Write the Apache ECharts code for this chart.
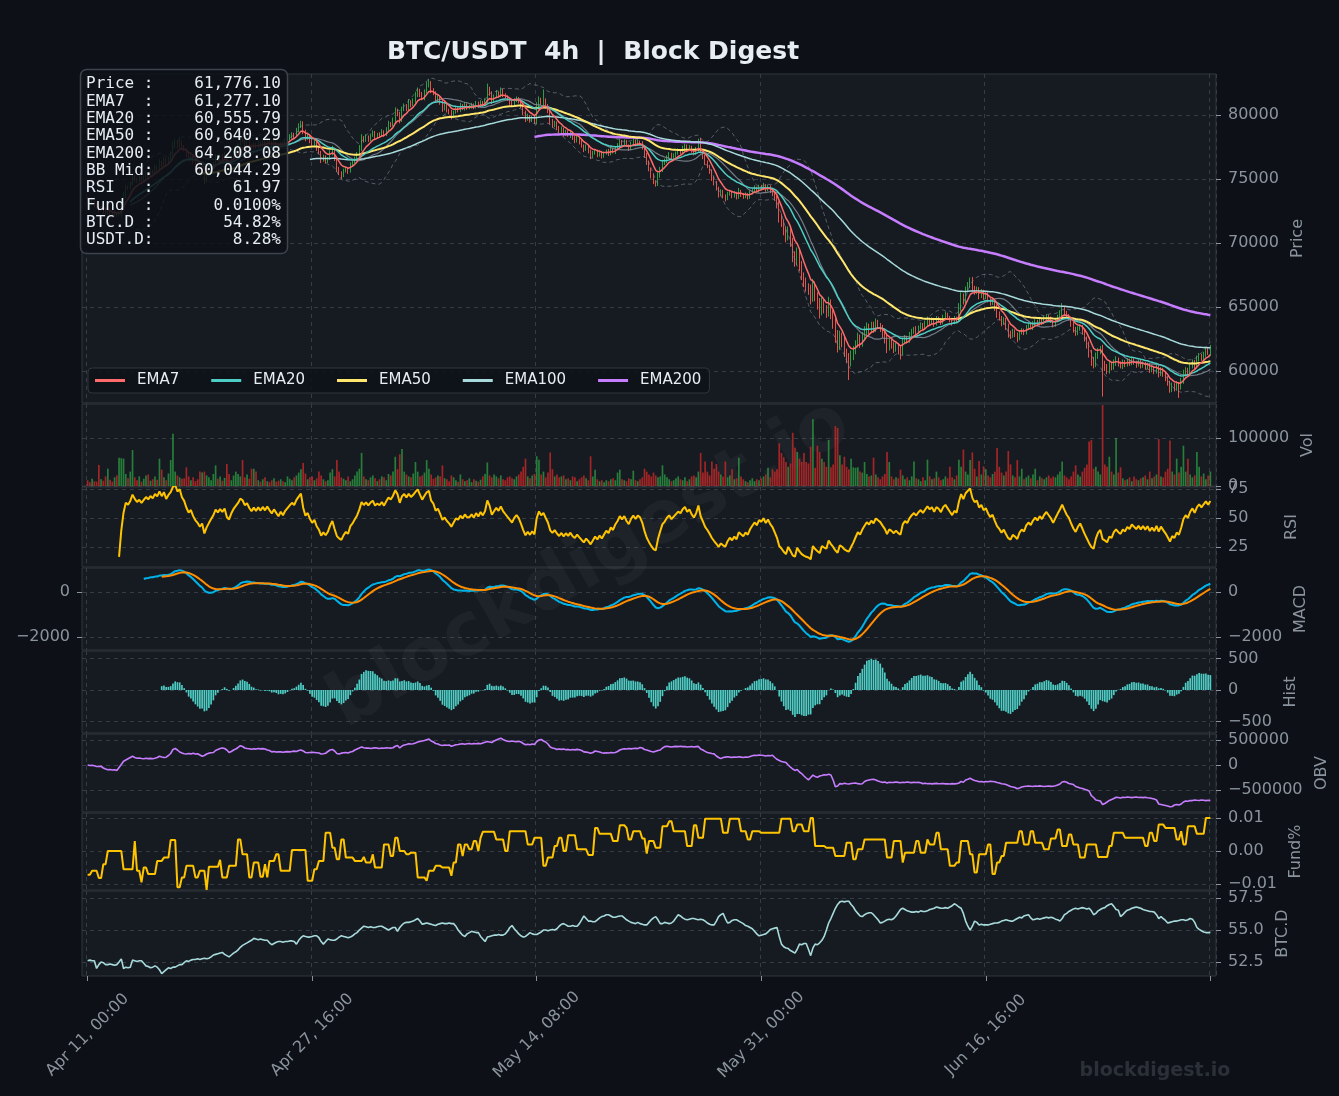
<!DOCTYPE html>
<html><head><meta charset="utf-8">
<script src="https://cdn.jsdelivr.net/npm/echarts@6.0.0/dist/echarts.min.js"></script>
<style>html,body{margin:0;padding:0;background:#0d1117;}#c{width:1339px;height:1096px;}</style>
</head><body><div id="c"></div>
<script>
// ---------------- DATA ----------------
const xTickLabels = ['Apr 11, 00:00','Apr 27, 16:00','May 14, 08:00','May 31, 00:00','Jun 16, 16:00',''];
const priceTicks = [60000,65000,70000,75000,80000];
const volTicks = [0,100000];
const rsiTicks = [25,50,75];
const macdTicks = [-2000,0];
const histTicks = [-500,0,500];
const obvTicks = [-500000,0,500000];
const fundTicks = [-0.01,0,0.01];
const btcdTicks = [52.5,55,57.5];
const legendNames = ['EMA7','EMA20','EMA50','EMA100','EMA200'];
const infoLabels = ['Price :','EMA7  :','EMA20 :','EMA50 :','EMA200:','BB Mid:','RSI   :','Fund  :','BTC.D :','USDT.D:'];
const infoValues = ['61,776.10','61,277.10','60,555.79','60,640.29','64,208.08','60,044.29','61.97','0.0100%','54.82%','8.28%'];
const firstOpen = 73450;
const closeP = [
73300,73150,73220,72980,72850,72600,72700,72450,72300,72420,
72250,72150,72320,72180,72200,72900,73700,74400,74300,74600,
75200,75000,74850,75050,74900,75150,75400,75300,75600,75500,
75900,75800,76300,76100,76500,76200,76600,76900,77600,77900,
77600,77900,77500,77300,76900,76600,76800,76400,76100,75900,
75600,75800,74900,75300,75600,75900,76200,76700,76500,76800,
76600,76900,76300,76100,76600,77000,77300,77600,78100,78000,
77700,77900,77600,77400,77700,77500,77800,77600,77900,77700,
78000,77800,77600,77900,77700,77500,77800,77600,77900,78100,
78300,78500,78400,78800,79100,79400,78700,78200,78400,78000,
77700,77900,77400,77100,76500,76700,76400,76600,77000,77300,
76600,75800,75500,75300,75600,75800,75600,76100,76300,76600,
76900,77400,78200,78000,78300,78100,78400,78600,78300,78500,
78400,78700,78500,78900,79300,79200,79600,80300,80100,79600,
80400,80700,80500,81000,80800,81100,81500,81900,81600,81300,
81800,82300,82500,81900,81700,81200,81400,81000,80500,80700,
80400,80200,79900,80200,80500,80400,80700,80500,80800,80600,
80600,80800,80600,80900,80700,81000,80800,81100,82000,81700,
81100,81400,81700,81500,81900,81600,81400,81200,81000,80800,
81100,81300,81100,80700,80200,79700,79900,79600,79800,79500,
80600,81200,80900,81100,80700,80300,79500,79200,79400,79000,
78700,78900,78500,78700,78400,78600,78200,78000,78200,77900,
77600,77300,77500,77200,76800,77000,77200,76900,77100,76800,
77000,77200,77000,77300,77100,77400,77600,77900,77700,77900,
77600,77400,77700,77900,77700,77900,77800,77500,76900,76300,
75800,75300,74800,74600,75200,75700,76200,76400,76700,76900,
76600,76800,77000,77200,77100,77400,77600,77300,77500,77200,
77000,77300,77900,77200,76800,76300,76000,75600,75100,74700,
74300,73800,74000,73700,73500,73800,74000,73700,73900,73600,
74000,73800,73600,73800,73600,73900,74100,74300,74100,74400,
74300,74500,74200,74400,74100,73900,73500,73000,72000,71600,
71000,70500,70900,70100,69000,68600,69200,68300,67500,67000,
66600,66400,65700,66700,65900,65300,64700,65300,64900,64600,
65300,64500,63800,62800,62000,62700,62300,61500,61100,60800,
61200,61600,62100,62600,62200,62700,63100,63500,63200,63600,
63300,63800,63600,63400,63000,62600,61900,62300,62100,61800,
62000,61700,61500,62300,62600,62400,62800,63100,63300,63100,
63400,63600,63400,63700,64000,63800,64000,63700,64100,64000,
63800,64200,64400,64200,64000,63800,64100,64000,64900,65800,
65500,66300,66700,67100,66500,66200,66400,65900,66200,65800,
66000,65600,65300,65500,65000,64500,64200,63800,64000,63500,
63000,62800,63100,62900,62600,63000,63200,63000,63400,63600,
63400,63700,63900,63700,64000,63800,64100,64300,64100,63900,
63600,63900,64200,64500,64900,64600,64300,64100,63700,63300,
63000,63300,63500,63100,62600,62100,61500,60900,60600,61200,
61600,61800,60600,60400,60100,60500,60300,60700,60900,60600,
60400,60700,60500,60800,60600,60900,60700,60500,60700,60400,
60600,60300,60500,60100,60300,60000,60300,59800,60100,59800,
59500,59100,58600,58900,58700,59000,58800,59200,59800,60100,
59900,60400,60700,60400,60900,61200,61000,61300,61600,61400,
61776.1];
// wick lengths in units of $50
const wickUp = [
3,2,4,2,3,2,4,3,2,3, 2,3,4,2,5,4,6,3,2,4, 5,3,2,4,3,2,4,3,5,2, 4,3,5,2,4,3,3,5,6,4, 3,8,2,3,2,3,4,2,3,2,
3,4,2,5,3,4,3,5,2,4, 3,4,2,3,5,4,3,4,6,3, 2,4,3,2,3,2,4,3,2,3, 3,2,3,4,2,3,2,3,4,3, 4,3,2,4,5,3,2,3,4,2,
3,4,2,3,2,4,3,2,5,6, 3,2,3,2,4,3,2,4,3,3, 4,5,6,3,4,2,3,4,3,2, 3,4,2,3,5,3,4,6,4,3, 5,4,3,5,3,4,6,5,3,4,
4,6,6,3,4,3,4,2,3,4, 3,2,4,3,4,2,5,3,4,2, 4,3,2,4,3,3,2,4,9,4, 3,4,5,3,5,3,2,3,2,3, 4,3,2,3,2,3,4,2,3,4,
8,5,3,18,4,3,2,4,3,2, 3,4,2,3,2,4,2,3,4,2, 3,2,4,3,2,4,3,2,3,2, 3,2,3,4,2,3,4,5,3,4, 3,2,4,5,3,4,2,3,2,3,
3,2,3,2,6,5,6,4,3,4, 3,4,3,4,2,4,3,2,3,2, 3,4,5,6,3,2,3,2,3,2, 3,2,4,3,2,4,3,2,3,2, 6,3,2,3,2,4,3,4,2,3,
3,4,2,3,2,3,2,4,5,6, 5,6,8,5,6,7,9,5,6,4, 6,5,7,10,6,5,8,9,6,5, 10,6,5,7,8,9,6,8,5,6, 8,7,6,8,5,7,8,6,4,5,
5,6,4,3,4,3,6,5,4,3, 4,3,5,6,4,3,5,4,3,4, 3,4,3,4,5,3,4,3,4,3, 3,4,5,3,2,3,4,3,8,7, 5,6,5,4,5,3,4,3,4,3,
4,3,2,3,2,4,3,2,4,3, 4,3,4,3,2,4,3,2,4,3, 3,4,3,2,4,3,4,3,2,3, 2,3,4,5,8,3,2,3,2,3, 3,4,3,2,3,2,4,3,4,5,
4,3,5,4,3,5,3,4,5,3, 3,4,3,4,3,4,3,2,4,3, 3,2,3,2,3,2,4,3,4,3, 3,2,3,4,3,4,3,5,6,4, 3,5,4,3,6,4,3,4,5,4,
5];
const wickDn = [
2,3,2,4,3,4,2,3,4,2, 3,4,2,3,2,3,2,4,3,2, 2,4,3,2,4,3,2,4,3,3, 2,4,3,4,3,4,2,3,3,2, 4,3,4,3,5,4,3,4,3,4,
3,2,6,3,2,3,2,3,4,2, 3,2,4,3,2,3,2,3,2,4, 3,2,3,4,2,3,2,3,2,3, 2,3,4,2,3,4,2,3,2,3, 2,3,4,2,3,2,4,5,3,4,
3,2,4,3,5,3,4,3,2,3, 4,5,4,6,3,2,4,2,3,2, 2,3,4,3,2,4,3,2,4,3, 3,2,4,3,2,3,2,3,4,5, 3,2,4,3,4,2,3,2,4,3,
3,2,3,4,3,4,3,4,5,3, 4,3,5,3,2,4,3,2,3,4, 3,2,3,2,3,2,3,2,3,4, 5,3,2,3,2,4,3,2,4,3, 3,2,4,3,4,5,3,4,3,4,
4,3,2,3,4,3,5,4,3,4, 3,2,4,3,2,4,3,4,3,4, 3,4,2,4,5,3,2,4,3,4, 3,2,4,3,2,3,2,3,2,3, 2,4,3,2,3,2,3,4,5,4,
4,5,4,4,3,2,3,2,3,2, 3,2,3,2,3,2,3,4,2,3, 3,2,3,4,5,4,3,4,5,4, 4,5,3,4,5,3,2,4,3,4, 3,4,3,2,4,3,2,3,2,3,
2,3,4,3,4,5,4,6,8,7, 8,9,6,8,10,9,7,10,8,9, 8,9,10,6,9,10,12,7,8,9, 7,9,10,12,11,7,9,8,10,30, 9,7,6,5,8,6,5,6,7,5,
6,5,6,7,8,9,10,6,7,8, 6,8,12,5,4,5,4,3,4,5, 4,3,5,4,3,4,3,5,3,4, 4,3,2,3,4,5,3,4,3,4, 6,4,3,4,6,5,4,6,4,5,
4,5,4,3,6,7,5,6,4,6, 8,6,4,5,7,4,3,4,3,4, 3,4,3,4,3,4,3,2,4,3, 4,3,2,3,4,5,4,3,5,6, 5,4,3,5,6,7,9,10,8,6,
5,6,52,8,7,6,5,4,6,5, 4,5,4,3,4,3,4,5,3,4, 3,4,3,5,4,5,4,6,4,5, 6,5,6,5,6,5,18,5,4,5, 4,5,4,5,4,3,4,3,4,3,
4];
// volume in thousands
const volK = [
12,8,15,10,9,44,14,11,20,36, 13,9,18,22,59,58,57,25,16,30, 75,18,12,20,9,15,22,24,11,14, 20,13,57,34,18,12,26,54,109,30, 22,18,15,16,39,20,12,18,10,14,
30,28,30,22,18,12,25,43,15,20, 11,17,46,25,12,22,30,25,20,54, 18,24,15,36,36,30,12,9,14,18, 10,8,12,16,9,11,14,10,8,20, 15,12,18,22,28,35,48,26,14,18,
20,12,16,30,22,14,10,12,28,35, 20,54,30,18,15,12,20,10,14,22, 30,36,69,20,14,12,18,22,16,10, 14,20,18,12,25,22,30,61,35,66, 77,30,24,20,18,26,50,30,20,22,
28,54,36,24,15,18,22,20,43,16, 14,10,22,18,12,9,24,14,10,12, 16,8,14,11,9,13,20,25,49,22, 18,24,20,16,22,14,12,18,20,16, 14,20,24,30,40,57,20,16,22,25,
62,55,24,30,18,28,70,35,20,24, 18,20,22,14,16,12,20,18,10,14, 18,22,16,12,62,20,34,14,10,12, 8,12,10,14,16,12,28,34,14,12, 10,16,14,32,12,10,14,18,36,30,
24,20,28,22,18,20,43,24,18,14, 10,12,16,20,14,12,18,10,14,20, 22,18,30,69,28,51,30,22,51,36, 46,30,24,20,51,18,22,35,14,16, 59,20,14,10,8,12,16,10,14,12,
16,20,24,38,18,35,30,35,89,69, 60,50,40,47,111,80,71,57,50,69, 50,47,82,139,38,84,71,57,50,40, 96,39,45,125,121,64,45,61,40,35, 57,39,38,39,30,28,50,25,20,22,
59,24,18,14,20,25,71,50,20,14, 18,16,34,22,14,18,12,20,51,16, 14,10,18,12,55,20,14,16,30,18, 12,14,20,16,40,18,14,22,55,40, 76,30,24,54,70,36,20,52,24,41,
35,22,18,25,30,79,40,28,22,30, 73,45,22,18,54,20,36,14,18,22, 16,24,36,12,20,16,14,18,22,16, 20,18,24,30,51,22,18,14,20,30, 43,24,20,30,38,45,93,96,36,40,
30,24,169,45,40,61,30,24,100,28, 39,16,12,14,18,10,20,14,12,16, 18,22,14,30,16,20,24,98,20,18, 30,36,95,30,24,57,28,40,84,30, 57,24,18,22,71,40,20,26,14,22,
30];
// on-balance volume in thousands
const obvK = [
0,-10,-5,-15,-30,-31,-25,-60,-80,-94, -90,-100,-94,-110,-50,10,75,100,125,150, 175,150,135,140,130,125,135,128,132,125, 135,150,175,160,150,156,190,230,312,330, 300,260,240,225,219,230,222,235,219,225,
200,175,190,220,237,245,250,290,312,330, 340,330,300,250,270,300,320,350,387,370, 340,330,325,315,325,318,330,322,328,320, 300,290,262,270,258,265,262,255,262,268, 262,270,278,270,290,300,281,250,245,250,
255,250,245,240,219,225,235,270,300,312, 280,230,219,237,245,250,240,260,270,300, 320,340,362,345,337,340,330,337,345,337, 330,340,335,345,340,337,345,375,390,340, 380,400,410,425,420,425,440,460,470,480,
490,505,520,480,460,430,420,400,390,400, 395,400,375,390,406,410,420,425,415,425, 430,420,428,425,432,425,440,455,469,460, 450,480,500,520,537,510,490,475,469,480, 470,465,475,460,430,406,415,406,420,410,
470,500,512,480,460,420,360,340,330,312, 320,312,318,305,312,300,310,302,312,305, 290,262,258,250,235,250,280,270,260,245, 237,245,240,250,245,250,270,300,315,325, 320,330,322,330,335,328,350,340,310,300,
285,270,260,275,290,300,340,367,375,367, 360,367,372,367,375,368,370,360,365,370, 360,367,372,320,300,272,250,240,230,222, 180,150,127,150,158,165,158,152,160,155, 165,158,150,160,155,170,185,196,190,200,
196,190,180,190,185,196,150,114,90,70, 60,50,0,-44,-80,-108,-90,-140,-171,-220, -260,-297,-250,-203,-230,-247,-220,-210,-195,-200, -184,-200,-300,-437,-420,-373,-380,-365,-375,-380, -370,-365,-360,-373,-380,-375,-330,-310,-300,-290,
-285,-300,-320,-335,-348,-340,-360,-345,-350,-348, -340,-348,-355,-345,-350,-340,-348,-352,-345,-350, -348,-355,-373,-365,-375,-370,-378,-373,-368,-375, -373,-370,-378,-375,-380,-372,-378,-373,-360,-330, -345,-300,-285,-266,-290,-310,-320,-335,-329,-340,
-329,-335,-325,-330,-335,-350,-360,-375,-380,-392, -410,-430,-440,-450,-475,-460,-440,-430,-424,-420, -424,-430,-420,-425,-418,-424,-430,-424,-420,-428, -424,-415,-400,-380,-340,-329,-345,-370,-380,-392, -430,-445,-460,-470,-487,-500,-520,-614,-650,-700,
-710,-720,-791,-770,-740,-709,-690,-670,-646,-650, -660,-646,-650,-640,-646,-652,-646,-640,-650,-646, -652,-646,-655,-660,-670,-680,-700,-780,-790,-800, -810,-820,-835,-830,-800,-790,-800,-780,-740,-720, -725,-709,-712,-700,-705,-709,-700,-706,-712,-706,
-709];
// funding rate in units of 0.0001 %
const fundE4 = [
-72,-72,-60,-60,-60,-82,-82,-40,-40,0, 0,0,0,0,0,0,-55,-55,-55,-55, -55,30,-60,-60,-95,-50,-50,-70,-70,-70, -70,-30,-30,-30,-20,-20,-20,33,33,33, -110,-110,-80,-80,-45,-45,-45,-45,-80,-80,
-60,-60,-60,-118,-48,-48,-48,-48,-48,-27, -80,-80,-80,-45,-45,-45,-45,35,35,-10, -10,-10,-80,-80,-35,-35,-35,-78,-78,-40, -80,-30,-30,-30,-10,-10,-60,-60,-60,-60, -60,3,3,3,3,3,3,3,-90,-90,
-90,-55,-55,-30,-30,-30,55,55,55,10, 10,-25,-25,35,35,-20,-20,-20,-20,-30, -30,-30,-30,-18,-35,-35,-35,-10,-50,-50, -50,-50,20,20,20,-15,-15,40,40,0, 0,0,-10,-10,-5,-5,-5,-80,-80,-80,
-80,-90,-60,-60,-60,-45,-45,-45,-50,-50, -50,-50,-75,-35,-35,20,20,-15,20,20, 5,5,30,30,0,40,58,58,58,58, 58,58,35,35,35,35,0,0,60,60, 60,60,60,60,60,60,20,20,20,40,
40,40,40,-45,-45,-20,-20,-20,15,15, 40,40,0,0,48,48,48,48,5,5, 5,5,5,-12,-12,-12,70,70,52,52, 52,52,52,52,30,30,30,78,78,78, 70,35,35,60,60,60,60,38,38,-8,
30,30,30,10,10,10,75,75,75,90, 90,60,60,60,60,60,60,15,15,15, 78,78,40,40,40,98,98,98,98,98, 98,98,98,55,55,55,98,98,98,98, 98,60,60,60,35,35,60,60,60,60,
55,55,55,55,55,55,55,55,55,98, 98,98,98,98,60,60,80,80,80,60, 60,60,100,100,15,15,15,15,15,10, 10,10,10,-15,-15,-15,-15,-15,25,25, 25,-25,-25,5,5,5,35,35,35,35,
35,35,35,35,35,35,-20,-20,-20,30, 30,30,30,-35,-5,-5,-5,-5,-5,30, 30,-5,-5,-5,35,20,20,20,55,55, 5,5,5,5,-45,-45,-45,-35,-35,30, 30,30,30,-10,-10,-65,-65,-10,-10,-10,
-10,20,20,-70,-70,-35,-35,-15,-15,25, 25,25,25,25,25,60,60,20,20,20, 60,60,25,25,25,25,5,5,5,38, 38,38,65,65,15,15,15,50,50,20, 20,20,-20,-20,-20,20,20,20,20,20,
-18,-18,-18,-18,-18,15,15,55,55,55, 55,55,40,40,40,40,40,40,40,40, 40,15,15,55,55,30,30,80,80,80, 70,70,70,70,70,35,35,60,20,20, 75,75,75,75,52,52,52,52,100,100,
100];
const btcDom = [
52.6,52.65,52.6,52.6,52.0,52.3,52.5,52.45,52.3,52.3, 52.35,52.3,52.25,52.3,52.5,52.75,52.0,52.1,52.05,52.1, 52.65,52.6,52.55,52.6,52.6,52.4,52.2,52.15,52.05,52.1, 52.2,52.1,51.9,51.6,51.75,51.9,52.05,52.0,52.1,52.1, 52.2,52.3,52.3,52.45,52.6,52.55,52.65,52.7,52.7,52.75,
52.7,52.75,52.8,52.75,52.8,52.9,53.05,53.1,53.15,53.2, 53.25,53.1,53.0,52.9,53.05,53.2,53.3,53.45,53.65,53.8, 53.9,54.0,54.1,54.2,54.35,54.3,54.25,54.3,54.25,54.2, 54.2,54.0,53.85,53.95,54.05,54.1,54.1,54.05,54.1,54.1, 54.15,54.15,54.1,53.9,54.2,54.4,54.55,54.5,54.45,54.45,
54.5,54.55,54.55,54.4,54.1,53.9,54.1,54.3,54.25,54.2, 54.2,54.3,54.45,54.55,54.5,54.45,54.4,54.45,54.55,54.7, 54.8,55.0,55.15,55.3,55.25,55.2,55.25,55.2,55.2,55.25, 55.3,55.3,55.2,55.1,55.0,55.1,55.2,55.2,54.9,55.2, 55.4,55.55,55.6,55.6,55.65,55.7,55.8,55.9,55.7,55.45,
55.5,55.55,55.5,55.45,55.4,55.35,55.45,55.5,55.55,55.5, 55.5,55.55,55.5,55.5,55.3,55.0,54.8,54.6,54.5,54.7, 54.8,54.9,54.85,54.8,54.8,54.5,54.3,54.1,54.45,54.5, 54.55,54.6,54.6,54.65,54.6,54.6,54.7,54.9,55.2,55.35, 55.1,54.9,54.7,54.55,54.45,54.5,54.65,54.8,54.7,54.65,
54.65,54.75,54.85,55.0,55.0,54.95,55.0,55.05,55.0,55.1, 55.3,55.45,55.5,55.4,55.3,55.3,55.35,55.3,55.3,55.5, 55.8,56.1,55.9,55.7,55.7,55.65,55.65,55.8,55.95,56.05, 56.1,56.2,56.2,56.1,56.0,56.0,56.05,56.1,56.1,55.95, 55.8,55.7,55.6,55.55,55.5,55.6,55.5,55.45,55.4,55.4,
55.6,55.8,55.95,56.05,55.8,55.5,55.5,55.6,55.55,55.5, 55.55,55.7,55.95,56.2,56.1,55.95,55.85,55.8,55.85,55.9, 55.9,55.85,55.8,55.85,55.8,55.7,55.55,55.45,55.4,55.4, 55.7,56.05,56.2,56.3,55.9,55.55,55.6,55.75,55.8,55.8, 55.7,55.6,55.5,55.35,55.3,55.2,55.1,54.9,54.7,54.55,
54.6,54.65,54.7,54.85,55.05,55.1,55.15,55.2,54.5,53.9, 53.7,53.6,53.55,53.4,53.3,53.2,53.5,53.9,53.85,53.95, 53.95,53.5,53.0,53.6,53.9,53.85,54.0,54.2,54.5,55.0, 55.55,55.9,56.3,56.7,57.0,57.2,57.25,57.2,57.25,57.25, 57.0,56.8,56.5,56.3,56.1,56.05,56.2,56.3,56.35,56.35,
56.2,56.0,55.8,55.55,55.6,55.7,55.8,55.85,55.8,55.9, 56.1,56.35,56.6,56.7,56.6,56.5,56.45,56.4,56.4,56.45, 56.4,56.5,56.45,56.45,56.5,56.6,56.65,56.7,56.8,56.75, 56.7,56.7,56.75,56.7,56.8,56.9,57.05,56.95,56.8,56.7, 56.3,55.7,55.3,55.0,55.3,55.7,55.6,55.4,55.45,55.4,
55.4,55.4,55.45,55.5,55.55,55.55,55.6,55.7,55.75,55.8, 55.75,55.7,55.7,55.8,55.9,56.0,55.95,56.1,56.15,56.2, 55.95,55.8,55.85,55.9,55.85,55.9,55.95,56.0,55.95,56.0, 55.95,55.85,55.8,55.7,55.9,56.2,56.3,56.45,56.55,56.65, 56.7,56.65,56.7,56.75,56.7,56.65,56.7,56.5,56.2,56.3,
56.5,56.6,56.7,56.75,56.9,57.0,57.05,56.85,56.6,56.55, 56.05,56.2,56.4,56.55,56.6,56.7,56.75,56.8,56.75,56.7, 56.6,56.55,56.5,56.45,56.45,56.4,56.2,55.9,56.05,55.9, 55.75,55.55,55.6,55.65,55.7,55.7,55.75,55.8,55.8,55.75, 55.8,55.9,55.85,55.6,55.2,55.05,54.95,54.85,54.8,54.8,
54.82];

// ---------------- DERIVED ----------------
const N = closeP.length;
const PAD = 2, NCAT = 505, TICK = 100;
const cats = Array.from({length: NCAT}, (_, i) => String(i));
const openP = closeP.map((c, i) => i === 0 ? firstOpen : closeP[i - 1]);
const highP = closeP.map((c, i) => Math.max(c, openP[i]) + wickUp[i] * 50);
const lowP = closeP.map((c, i) => Math.min(c, openP[i]) - wickDn[i] * 50);
const vol = volK.map(v => v * 1000);
const obv = obvK.map(v => v * 1000);
const fund = fundE4.map(v => v / 10000);

function ema(src, span, minP) {
  const a = 2 / (span + 1); const out = []; let e = null, cnt = 0;
  for (let i = 0; i < src.length; i++) {
    const v = src[i];
    if (v == null) { out.push(null); continue; }
    e = (e == null) ? v : a * v + (1 - a) * e; cnt++;
    out.push(cnt >= minP ? e : null);
  }
  return out;
}
const ema7 = ema(closeP, 7, 7), ema20 = ema(closeP, 20, 20), ema50 = ema(closeP, 50, 50);
const ema100 = ema(closeP, 100, 100), ema200 = ema(closeP, 200, 200);
const bbMid = [], bbUp = [], bbLo = [];
for (let i = 0; i < N; i++) {
  if (i < 19) { bbMid.push(null); bbUp.push(null); bbLo.push(null); continue; }
  const w = closeP.slice(i - 19, i + 1); const m = w.reduce((s, v) => s + v, 0) / 20;
  const sd = Math.sqrt(w.reduce((s, v) => s + (v - m) * (v - m), 0) / 19);
  bbMid.push(m); bbUp.push(m + 2 * sd); bbLo.push(m - 2 * sd);
}
const rsi = [null]; { let ag = null, al = null, cnt = 0;
  for (let i = 1; i < N; i++) {
    const d = closeP[i] - closeP[i - 1]; const g = Math.max(d, 0), l = Math.max(-d, 0);
    if (ag == null) { ag = g; al = l; } else { ag = ag * 13 / 14 + g / 14; al = al * 13 / 14 + l / 14; }
    cnt++; rsi.push(cnt >= 14 ? (al === 0 ? 100 : 100 - 100 / (1 + ag / al)) : null);
  } }
const e12 = ema(closeP, 12, 1), e26 = ema(closeP, 26, 1);
const macd = closeP.map((c, i) => i >= 25 ? e12[i] - e26[i] : null);
const signal = ema(macd, 9, 9);
const hist = macd.map((m, i) => (m != null && signal[i] != null) ? m - signal[i] : null);

function padArr(arr) { const out = new Array(NCAT).fill('-'); arr.forEach((v, i) => { out[i + PAD] = (v == null || isNaN(v)) ? '-' : v; }); return out; }
const candleData = new Array(NCAT).fill(null).map(() => ['-', '-', '-', '-']);
closeP.forEach((c, i) => { candleData[i + PAD] = [openP[i], c, lowP[i], highP[i]]; });
const volData = new Array(NCAT).fill('-');
vol.forEach((v, i) => { volData[i + PAD] = { value: v, itemStyle: { color: closeP[i] >= openP[i] ? 'rgba(46,160,67,0.75)' : 'rgba(200,40,40,0.8)' } }; });

// ---------------- CHART ----------------
const GRAY = '#8b949e', GRID = '#363c45';
const grids = [[74, 329], [404, 82], [487, 80], [568, 82], [651, 82], [734, 78], [813, 77], [891, 85]];
const minus = v => (v < 0 ? '\u2212' : '') + Math.abs(v);
const yCfg = [
  { min: 57500, max: 83203, ticks: priceTicks, name: 'Price', gap: 73, fmt: v => String(v) },
  { min: 0, max: 171000, ticks: volTicks, name: 'Vol', gap: 77, fmt: v => String(v) },
  { min: 7.8, max: 76.7, ticks: rsiTicks, name: 'RSI', gap: 68, fmt: v => String(v) },
  { min: -2578, max: 1067, ticks: macdTicks, name: 'MACD', gap: 75, fmt: minus },
  { min: -683, max: 619, ticks: histTicks, name: 'Hist', gap: 62, fmt: minus },
  { min: -940000, max: 620000, ticks: obvTicks, name: 'OBV', gap: 93, fmt: minus },
  { min: -0.01182, max: 0.01152, ticks: fundTicks, name: 'Fund%', gap: 70, fmt: v => (v < 0 ? '\u2212' : '') + Math.abs(v).toFixed(2) },
  { min: 51.41, max: 58.05, ticks: btcdTicks, name: 'BTC.D', gap: 51, fmt: v => v.toFixed(1) }
];
const isTick = idx => idx >= PAD && (idx - PAD) % TICK === 0 && idx - PAD <= 500;

const yAxes = yCfg.map((c, k) => ({
  type: 'value', gridIndex: k, position: 'right', min: c.min, max: c.max,
  name: c.name, nameLocation: 'middle', nameRotate: 90, nameGap: c.gap,
  nameTextStyle: { color: GRAY, fontSize: 16, fontFamily: 'DejaVu Sans' },
  axisLine: { show: false },
  axisTick: { show: true, length: 5, customValues: c.ticks, lineStyle: { color: GRAY } },
  axisLabel: { show: true, customValues: c.ticks, formatter: c.fmt, color: GRAY, fontSize: 16, margin: 12, fontFamily: 'DejaVu Sans' },
  splitLine: { show: true, lineStyle: { color: GRID, type: [4, 4], width: 1 } }
}));
yAxes.push({
  type: 'value', gridIndex: 3, position: 'left', min: yCfg[3].min, max: yCfg[3].max,
  axisLine: { show: false },
  axisTick: { show: true, length: 5, customValues: macdTicks, lineStyle: { color: GRAY } },
  axisLabel: { show: true, customValues: macdTicks, formatter: minus, color: GRAY, fontSize: 16, margin: 12, fontFamily: 'DejaVu Sans' },
  splitLine: { show: false }
});

const xAxes = grids.map((g, k) => ({
  type: 'category', gridIndex: k, data: cats, boundaryGap: true,
  axisLine: { show: false },
  axisTick: { show: k === 7, alignWithLabel: true, interval: isTick, length: 5, lineStyle: { color: GRAY } },
  axisLabel: { show: k === 7, interval: isTick, rotate: 45, align: 'center', verticalAlign: 'middle', margin: 59,
    color: GRAY, fontSize: 16, fontFamily: 'DejaVu Sans',
    formatter: (v) => xTickLabels[(Number(v) - PAD) / TICK] || '' },
  splitLine: { show: true, interval: isTick, lineStyle: { color: GRID, type: [4, 4], width: 1 } }
}));

const line = (name, data, color, width, xi, extra) => Object.assign({
  name, type: 'line', data: padArr(data), xAxisIndex: xi, yAxisIndex: xi, color,
  showSymbol: false, symbol: 'none', lineStyle: { color, width }, silent: true, animation: false, z: 3
}, extra || {});

const series = [
  { type: 'candlestick', data: candleData, xAxisIndex: 0, yAxisIndex: 0, barWidth: 1, silent: true, z: 2,
    itemStyle: { color: '#2ea043', color0: '#e5534b', borderColor: '#2ea043', borderColor0: '#e5534b', borderWidth: 1 } },
  line('BBU', bbUp, 'rgba(139,148,158,0.55)', 1, 0, { lineStyle: { color: 'rgba(139,148,158,0.55)', width: 1, type: [4, 3] } }),
  line('BBL', bbLo, 'rgba(139,148,158,0.55)', 1, 0, { lineStyle: { color: 'rgba(139,148,158,0.55)', width: 1, type: [4, 3] } }),
  line('BBM', bbMid, 'rgba(139,148,158,0.8)', 1.2, 0),
  line('EMA200', ema200, '#c77dff', 2.5, 0),
  line('EMA100', ema100, '#a8dadc', 1.5, 0),
  line('EMA50', ema50, '#ffe66d', 2, 0),
  line('EMA20', ema20, '#4ecdc4', 1.5, 0),
  line('EMA7', ema7, '#ff6b6b', 1.5, 0),
  { type: 'bar', data: volData, xAxisIndex: 1, yAxisIndex: 1, barWidth: '75%', silent: true, animation: false },
  line('RSI', rsi, '#ffc400', 2, 2),
  line('MACD', macd, '#00b4ea', 2, 3),
  line('Signal', signal, '#ff8c00', 2, 3),
  { type: 'bar', data: padArr(hist), xAxisIndex: 4, yAxisIndex: 4, barWidth: '75%', silent: true, animation: false, itemStyle: { color: '#4ecdc4' } },
  line('OBV', obv, '#c77dff', 1.6, 5),
  line('Fund', fund, '#ffc400', 2, 6),
  line('BTCD', btcDom, '#a8dadc', 1.6, 7)
];

const graphics = [
  { type: 'text', x: 593, y: 52, z: 10, style: { text: 'BTC/USDT  4h  |  Block Digest', fill: '#e6edf3', fontSize: 25, fontWeight: 'bold', fontFamily: 'DejaVu Sans', align: 'center', verticalAlign: 'middle' } },
  { type: 'text', x: 590, y: 565, rotation: Math.PI / 6, z: 1, silent: true, style: { text: 'blockdigest.io', fill: 'rgba(255,255,255,0.035)', fontSize: 74, fontWeight: 'bold', fontFamily: 'DejaVu Sans', align: 'center', verticalAlign: 'middle' } },
  { type: 'text', x: 1155, y: 1071, z: 10, style: { text: 'blockdigest.io', fill: '#2b3038', fontSize: 19, fontWeight: 'bold', fontFamily: 'DejaVu Sans', align: 'center', verticalAlign: 'middle' } },
  { type: 'rect', z: 100, shape: { x: 80.5, y: 69.5, width: 207, height: 184, r: 6 }, style: { fill: 'rgba(13,17,23,0.86)', stroke: '#3d444d', lineWidth: 1.5 } }
];
infoLabels.forEach((t, k) => {
  graphics.push({ type: 'text', z: 101, x: 86, y: 84 + k * 17.35, style: { text: t, fill: '#e6edf3', fontSize: 16, fontFamily: 'DejaVu Sans Mono', align: 'left', verticalAlign: 'middle' } });
  graphics.push({ type: 'text', z: 101, x: 281, y: 84 + k * 17.35, style: { text: infoValues[k], fill: '#e6edf3', fontSize: 16, fontFamily: 'DejaVu Sans Mono', align: 'right', verticalAlign: 'middle' } });
});

const chart = echarts.init(document.getElementById('c'), null, { renderer: 'canvas' });
chart.setOption({
  backgroundColor: '#0d1117', animation: false,
  textStyle: { fontFamily: 'DejaVu Sans' },
  grid: grids.map(g => ({ left: 82, right: 123, top: g[0], height: g[1], show: true, backgroundColor: '#161b22', borderColor: '#30363d', borderWidth: 1 })),
  xAxis: xAxes, yAxis: yAxes, series,
  legend: { data: legendNames, left: 88, top: 368, itemWidth: 30, itemHeight: 3, itemGap: 32, icon: 'rect',
    backgroundColor: 'rgba(13,17,23,0.85)', borderColor: '#30363d', borderWidth: 1, borderRadius: 4, padding: [5, 8, 5, 7],
    formatter: n => '{t|' + n + '}',
    textStyle: { color: '#e6edf3', fontSize: 15, rich: { t: { padding: [0, 0, 0, 7], color: '#e6edf3', fontSize: 15, fontFamily: 'DejaVu Sans' } } } },
  graphic: graphics
});
</script></body></html>
